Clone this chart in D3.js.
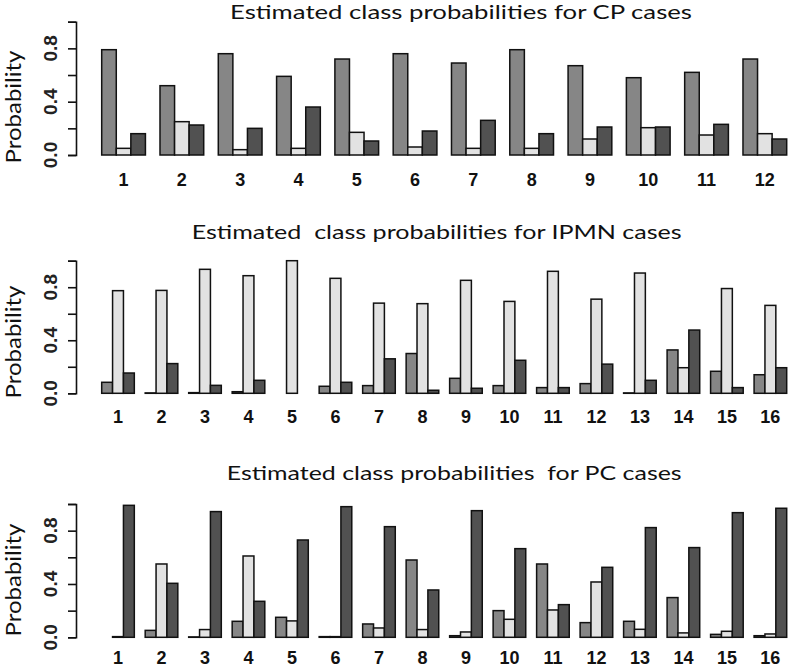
<!DOCTYPE html>
<html>
<head>
<meta charset="utf-8">
<script src="https://cdn.jsdelivr.net/npm/d3@7"></script>
<style>
  body { margin: 0; background: #fff; }
  svg { display: block; }
</style>
</head>
<body>
<div id="chart"></div>
<script>
// class probabilities per case: [class 1, class 2, class 3]
const cpCases = ["1","2","3","4","5","6","7","8","9","10","11","12"];
const cpProbs = [
  [0.79, 0.05, 0.16], [0.52, 0.25, 0.225], [0.76, 0.04, 0.20], [0.59, 0.05, 0.36],
  [0.72, 0.17, 0.105], [0.76, 0.06, 0.18], [0.69, 0.05, 0.26], [0.79, 0.05, 0.16],
  [0.67, 0.12, 0.21], [0.58, 0.205, 0.21], [0.62, 0.15, 0.23], [0.72, 0.16, 0.12]
];

const ipmnCases = ["1","2","3","4","5","6","7","8","9","10","11","12","13","14","15","16"];
const ipmnProbs = [
  [0.083, 0.774, 0.153], [0.003, 0.776, 0.224], [0.005, 0.935, 0.06], [0.012, 0.887, 0.098],
  [0.0, 1.0, 0.0], [0.053, 0.867, 0.083], [0.058, 0.68, 0.26], [0.30, 0.676, 0.023],
  [0.113, 0.852, 0.038], [0.058, 0.693, 0.249], [0.043, 0.92, 0.043], [0.073, 0.71, 0.22],
  [0.003, 0.907, 0.098], [0.327, 0.193, 0.477], [0.166, 0.79, 0.043], [0.14, 0.663, 0.193]
];

const pcCases = ["1","2","3","4","5","6","7","8","9","10","11","12","13","14","15","16"];
const pcProbs = [
  [0.0, 0.005, 0.99], [0.052, 0.55, 0.405], [0.003, 0.058, 0.943], [0.12, 0.61, 0.27],
  [0.15, 0.123, 0.73], [0.005, 0.005, 0.98], [0.10, 0.07, 0.83], [0.58, 0.058, 0.355],
  [0.012, 0.04, 0.95], [0.20, 0.135, 0.665], [0.55, 0.205, 0.245], [0.11, 0.415, 0.525],
  [0.12, 0.06, 0.823], [0.298, 0.033, 0.673], [0.022, 0.045, 0.935], [0.012, 0.025, 0.968]
];

const yTicks = [0, 0.2, 0.4, 0.6, 0.8, 1.0];
const yLabels = [0, 0.4, 0.8];
const classColors = ["#868686", "#e2e2e2", "#515151"];

const width = 798, height = 668;

const svg = d3.select("#chart").append("svg")
  .attr("width", width)
  .attr("height", height);

const panels = [
  {title: "Estimated class probabilities for CP cases", cases: cpCases, probs: cpProbs,
   y0: 155, y1: 21.7, titleX: 230, titleW: 462, titleY: 19, ylabY: 107, xlabY: 186},
  {title: "Estimated  class probabilities for IPMN cases", cases: ipmnCases, probs: ipmnProbs,
   y0: 393.3, y1: 260.7, titleX: 191.7, titleW: 490, titleY: 239, ylabY: 342, xlabY: 422.5},
  {title: "Estimated class probabilities  for PC cases", cases: pcCases, probs: pcProbs,
   y0: 637.3, y1: 504, titleX: 226.7, titleW: 455, titleY: 480, ylabY: 580, xlabY: 664}
];

const axisX = 76;

panels.forEach(p => {
  const g = svg.append("g");

  const x = d3.scaleBand()
    .domain(p.cases)
    .range([101.7, 786.7])
    .paddingInner(0.25)
    .paddingOuter(0);

  const xInner = d3.scaleBand()
    .domain([0, 1, 2])
    .range([0, x.bandwidth()]);

  const y = d3.scaleLinear()
    .domain([0, 1])
    .range([p.y0, p.y1]);

  // bars
  g.selectAll("g.case")
    .data(p.probs)
    .join("g")
    .attr("class", "case")
    .attr("transform", (d, i) => "translate(" + x(p.cases[i]) + ",0)")
    .selectAll("rect")
    .data(d => d)
    .join("rect")
    .attr("x", (d, j) => xInner(j))
    .attr("y", d => y(d))
    .attr("width", xInner.bandwidth())
    .attr("height", d => y(0) - y(d))
    .attr("fill", (d, j) => classColors[j])
    .attr("stroke", "#111")
    .attr("stroke-width", 1.5);

  // y axis
  const yAxis = g.append("g")
    .attr("transform", "translate(" + axisX + ",0)")
    .call(d3.axisLeft(y).tickValues(yTicks).tickSize(8).tickFormat(""));
  yAxis.select(".domain").attr("stroke", "#111").attr("stroke-width", 1.6);
  yAxis.selectAll(".tick line").attr("stroke", "#111").attr("stroke-width", 1.6);

  g.selectAll("text.ytick")
    .data(yLabels)
    .join("text")
    .attr("class", "ytick")
    .attr("transform", d => "translate(57," + y(d) + ") rotate(-90)")
    .attr("text-anchor", "middle")
    .style("font-family", "Liberation Sans, Arial, sans-serif")
    .style("font-weight", "bold")
    .style("font-size", "19px")
    .style("fill", "#222")
    .text(d => d.toFixed(1));

  // x labels
  g.selectAll("text.xlab")
    .data(p.cases)
    .join("text")
    .attr("class", "xlab")
    .attr("x", d => x(d) + x.bandwidth() / 2)
    .attr("y", p.xlabY)
    .attr("text-anchor", "middle")
    .style("font-family", "Liberation Sans, Arial, sans-serif")
    .style("font-weight", "bold")
    .style("font-size", "18px")
    .style("fill", "#111")
    .text(d => d);

  // y title
  g.append("text")
    .attr("transform", "translate(21," + (p.ylabY + 56.5) + ") rotate(-90)")
    .attr("textLength", 113)
    .attr("lengthAdjust", "spacingAndGlyphs")
    .style("font-family", "Lato, sans-serif")
    .style("font-size", "20.5px")
    .style("fill", "#111")
    .text("Probability");

  // panel title
  g.append("text")
    .attr("x", p.titleX)
    .attr("y", p.titleY)
    .attr("textLength", p.titleW)
    .attr("lengthAdjust", "spacingAndGlyphs")
    .style("white-space", "pre")
    .style("font-family", "Lato, sans-serif")
    .style("font-size", "19px")
    .style("fill", "#111")
    .text(p.title);
});
</script>
</body>
</html>
